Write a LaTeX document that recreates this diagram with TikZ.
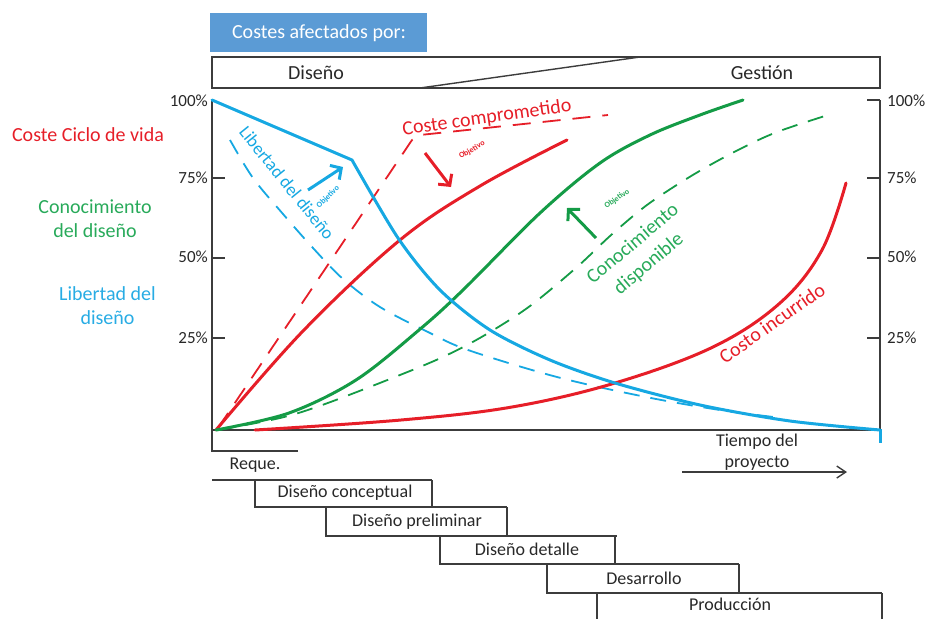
\documentclass[tikz,border=0pt]{standalone}
\usepackage{fontspec}
\setmainfont{Carlito}
\usetikzlibrary{arrows.meta}
\definecolor{cred}{RGB}{230,30,40}
\definecolor{cgreen}{RGB}{20,155,70}
\definecolor{tgreen}{RGB}{40,170,90}
\definecolor{cblue}{RGB}{22,168,226}
\definecolor{tblue}{RGB}{40,172,228}
\definecolor{boxblue}{RGB}{91,155,213}
\definecolor{axisgray}{RGB}{60,60,60}
\definecolor{txtgray}{RGB}{40,40,40}
\tikzset{
  curve/.style={line width=3pt, line cap=round, line join=round},
  dcurve/.style={line width=1.8pt, dash pattern=on 16pt off 11pt},
  axisline/.style={draw=axisgray, line width=1.4pt},
  lbl/.style={inner sep=0pt, text=txtgray, font=\fontsize{18}{21}\selectfont, align=center},
  big/.style={inner sep=0pt, font=\fontsize{20}{24}\selectfont, align=center},
  tick/.style={inner sep=0pt, text=txtgray, font=\fontsize{17}{20}\selectfont},
  obj/.style={inner sep=0pt, font=\bfseries\fontsize{8}{9}\selectfont},
  barb/.style={-{Straight Barb[length=8pt,width=17pt]}, line width=3pt}
}
\begin{document}
\begin{tikzpicture}[x=1pt,y=-1pt]
\useasboundingbox (0,0) rectangle (931,619);

% header
\fill[boxblue] (210,13) rectangle (427,52);
\node[big, text=white] (costes) at (319,33) {Costes afectados por:};
\draw[axisline] (212,57) rectangle (880,88);
\draw[axisline] (420,88) -- (640,57);
\node[big, text=txtgray] (diseno) at (316,73) {Diseño};
\node[big, text=txtgray] (gestion) at (762,73) {Gestión};

% axes
\draw[axisline] (298,451) -- (212,451) -- (212,100);
\draw[axisline] (212,430) -- (880,430);
\draw[axisline] (880,100) -- (880,430);
\foreach \yy in {178,258,338} \draw[axisline] (212,\yy) -- (225,\yy);
\foreach \yy in {100,178,258,338} \draw[axisline] (867,\yy) -- (880,\yy);
\node[tick, anchor=east] (l100) at (208,101) {100\%};
\node[tick, anchor=east] (l75) at (208,178) {75\%};
\node[tick, anchor=east] (l50) at (208,257) {50\%};
\node[tick, anchor=east] (l25) at (208,338) {25\%};
\node[tick, anchor=west] (r100) at (887,101) {100\%};
\node[tick, anchor=west] (r75) at (887,178) {75\%};
\node[tick, anchor=west] (r50) at (887,257) {50\%};
\node[tick, anchor=west] (r25) at (887,338) {25\%};

% left legend labels
\node[big, text=cred] (lcv) at (88,135) {Coste Ciclo de vida};
\node[big, text=tgreen] (lcd) at (95,219) {Conocimiento\\del diseño};
\node[big, text=tblue] (lld) at (107.5,306) {Libertad del\\diseño};

% dashed curves
\draw[cblue, dcurve] plot[smooth, tension=0.55] coordinates {(230,140) (253,178) (283,214) (313,248) (343,279) (380,307) (428,332) (468,350) (557,377) (646,397) (720,410) (782,418)};
\draw[cred, dcurve, dash pattern=on 18pt off 12pt] (218,428) -- (412,140) -- (420,135) -- (608,115);
\draw[cgreen, dcurve] plot[smooth, tension=0.55] coordinates {(218,430) (280,418) (325,404) (400,375) (445,356) (485,335) (530,306) (577,267) (610,236) (643,208) (672,188) (703,169) (740,149) (777,132) (828,115)};

% solid curves
\draw[cred, curve] plot[smooth, tension=0.6] coordinates {(216,430) (303,331) (400,240) (480,186) (567,140)};
\draw[cgreen, curve] plot[smooth, tension=0.55] coordinates {(216,430) (289,413) (356,380) (419,330) (463,290) (540,213) (600,163) (650,135) (700,115) (743,100)};
\draw[cred, curve] plot[smooth, tension=0.6] coordinates {(255,430) (401,420) (512,407) (615,383) (713,347) (780,303) (822,250) (846,183)};
\draw[cblue, curve] (212,100) -- (352,160) -- plot[smooth, tension=0.5] coordinates {(352,160) (398,238) (440,290) (490,330) (550,360) (615,383) (700,405) (790,421) (880,430)};
\draw[cblue, line width=3pt] (880,429) -- (880,443);

% target arrows
\draw[cred, barb] (425,153) -- (451,187);
\draw[cblue, barb] (308,190) -- (343,167);
\draw[cgreen, barb] (596,238) -- (567,208);
\node[obj, text=cred, rotate=30] (objr) at (472,150) {Objetivo};
\node[obj, text=cblue, rotate=45] (objb) at (328,197) {Objetivo};
\node[obj, text=tgreen, rotate=35] (objg) at (617,199) {Objetivo};

% curve labels
\node[big, text=cred, rotate=8] (ccomp) at (487,118) {Coste comprometido};
\node[big, text=cblue, rotate=-51, font=\fontsize{18}{22}\selectfont] (ldis) at (287,183) {Libertad del diseño};
\node[big, text=tgreen, rotate=40] (cdisp1) at (632,243) {Conocimiento};
\node[big, text=tgreen, rotate=40] (cdisp2) at (649,264) {disponible};
\node[big, text=cred, rotate=35] (cinc) at (772,323) {Costo incurrido};

% time arrow
\node[lbl] (tiempo) at (757,452) {Tiempo del\\proyecto};
\coordinate (ta) at (682,472);
\coordinate (tb) at (847,472);
\draw[axisline, -{Straight Barb[length=9pt,width=12pt]}] (ta) -- (tb);

% phases
\draw[axisline] (212,480) -- (432,480);
\draw[axisline] (255,480) -- (255,507) -- (507,507);
\draw[axisline] (432,480) -- (432,507);
\draw[axisline] (326,507) -- (326,536) -- (617,536);
\draw[axisline] (507,507) -- (507,536);
\draw[axisline] (440,536) -- (440,564) -- (739,564);
\draw[axisline] (615,536) -- (615,564);
\draw[axisline] (547,564) -- (547,593) -- (882,593);
\draw[axisline] (739,564) -- (739,593);
\draw[axisline] (597,593) -- (597,619);
\draw[axisline] (882,593) -- (882,619);
\node[lbl] (req) at (255,465) {Reque.};
\node[lbl] (dcon) at (345,493) {Diseño conceptual};
\node[lbl] (dpre) at (417,522) {Diseño preliminar};
\node[lbl] (ddet) at (527,549) {Diseño detalle};
\node[lbl] (desa) at (644,578) {Desarrollo};
\node[lbl] (prod) at (730,604) {Producción};
\end{tikzpicture}
\end{document}
